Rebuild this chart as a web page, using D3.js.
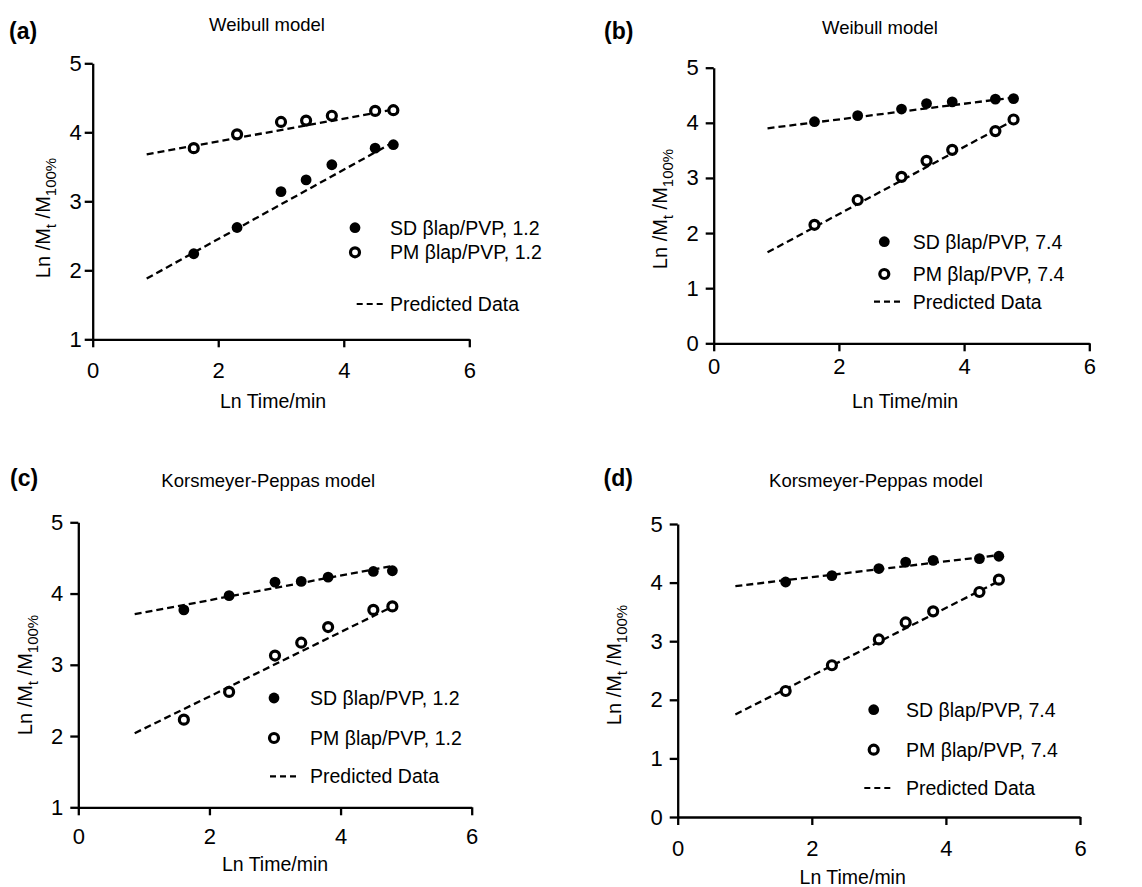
<!DOCTYPE html>
<html>
<head>
<meta charset="utf-8">
<script src="https://cdn.jsdelivr.net/npm/d3@7"></script>
<style>
  body { margin: 0; background: #fff; }
  svg { font-family: "Liberation Sans", Arial, Helvetica, sans-serif; }
</style>
</head>
<body>
<svg width="1142" height="887"></svg>
<script>
// sampling times, ln(min): 5, 10, 20, 30, 45, 90, 120 min
var lnTime = [1.61, 2.30, 3.00, 3.40, 3.81, 4.50, 4.79];

var aSD = [2.24, 2.62, 3.14, 3.31, 3.53, 3.77, 3.82];
var aPM = [3.77, 3.97, 4.15, 4.17, 4.24, 4.31, 4.32];
var bSD = [4.02, 4.13, 4.25, 4.35, 4.38, 4.43, 4.44];
var bPM = [2.15, 2.60, 3.02, 3.31, 3.51, 3.85, 4.06];
var cSD = [3.77, 3.97, 4.16, 4.17, 4.23, 4.31, 4.32];
var cPM = [2.23, 2.62, 3.13, 3.31, 3.53, 3.77, 3.82];
var dSD = [4.01, 4.12, 4.24, 4.35, 4.38, 4.41, 4.45];
var dPM = [2.15, 2.59, 3.03, 3.32, 3.51, 3.84, 4.05];

// predicted (fitted) lines: y at the two ends of fitX
var fitX = [0.86, 4.8];
var aFitSD = [1.88, 3.86], aFitPM = [3.68, 4.33];
var bFitSD = [3.90, 4.46], bFitPM = [1.65, 4.05];
var cFitSD = [3.71, 4.39], cFitPM = [2.04, 3.82];
var dFitSD = [3.94, 4.47], dFitPM = [1.75, 4.03];

var xTicks = [0, 2, 4, 6];
var yTicksAC = [1, 2, 3, 4, 5];
var yTicksBD = [0, 1, 2, 3, 4, 5];

var panels = [
  { tag: '(a)', title: 'Weibull model', ph: '1.2', sd: aSD, pm: aPM, fsd: aFitSD, fpm: aFitPM,
    yDom: [1, 5], yTicks: yTicksAC, x0: 92.7, x1: 469.3, y0: 339.3, y1: 63.3, xPad: 7, yPad: 3,
    tagX: 9, tagY: 39, titleX: 267, titleY: 30.7, xlabX: 273, xlabY: 408, ylabX: 50, ylabY: 218,
    lg: { mx: 355, y1: 227.7, y2: 252.3, y3: 304, tx: 390, d0: 356.7, d1: 383 } },
  { tag: '(b)', title: 'Weibull model', ph: '7.4', sd: bSD, pm: bPM, fsd: bFitSD, fpm: bFitPM,
    yDom: [0, 5], yTicks: yTicksBD, x0: 713.7, x1: 1089.3, y0: 343.3, y1: 67.7, xPad: -1, yPad: 7,
    tagX: 604, tagY: 39, titleX: 880, titleY: 34, xlabX: 905, xlabY: 408, ylabX: 667, ylabY: 209,
    lg: { mx: 884.3, y1: 241.7, y2: 274, y3: 301.7, tx: 912.7, d0: 874, d1: 901 } },
  { tag: '(c)', title: 'Korsmeyer-Peppas model', ph: '1.2', sd: cSD, pm: cPM, fsd: cFitSD, fpm: cFitPM,
    yDom: [1, 5], yTicks: yTicksAC, x0: 78.3, x1: 471.7, y0: 807.3, y1: 522.3, xPad: 5, yPad: 7,
    tagX: 10, tagY: 486, titleX: 268.3, titleY: 487, xlabX: 275, xlabY: 871, ylabX: 31.7, ylabY: 675,
    lg: { mx: 274, y1: 698, y2: 738, y3: 776.3, tx: 310, d0: 270, d1: 296.7 } },
  { tag: '(d)', title: 'Korsmeyer-Peppas model', ph: '7.4', sd: dSD, pm: dPM, fsd: dFitSD, fpm: dFitPM,
    yDom: [0, 5], yTicks: yTicksBD, x0: 677.7, x1: 1080, y0: 817, y1: 524, xPad: 7, yPad: 7,
    tagX: 603.5, tagY: 486, titleX: 876, titleY: 487, xlabX: 852.7, xlabY: 884, ylabX: 621, ylabY: 665,
    lg: { mx: 873.7, y1: 709.7, y2: 749.7, y3: 788, tx: 906, d0: 864.3, d1: 892.7 } }
];

var svg = d3.select('svg');
var fmt = d3.format('d');

panels.forEach(function(p) {
  var g = svg.append('g');
  var x = d3.scaleLinear().domain([0, 6]).range([p.x0, p.x1]);
  var y = d3.scaleLinear().domain(p.yDom).range([p.y0, p.y1]);

  // axes
  var xa = g.append('g').attr('transform', 'translate(0,' + p.y0 + ')')
    .call(d3.axisBottom(x).tickValues(xTicks).tickFormat(fmt)
      .tickSize(8).tickSizeOuter(0).tickPadding(8 + p.xPad));
  var ya = g.append('g').attr('transform', 'translate(' + p.x0 + ',0)')
    .call(d3.axisLeft(y).tickValues(p.yTicks).tickFormat(fmt)
      .tickSize(8).tickSizeOuter(0).tickPadding(p.yPad));
  [xa, ya].forEach(function(a) {
    a.select('.domain').attr('stroke', '#000').attr('stroke-width', 2.3);
    a.selectAll('.tick line').attr('stroke', '#000').attr('stroke-width', 2.3);
    a.selectAll('.tick text').attr('font-size', 22).attr('fill', '#000')
      .style('font-family', '"Liberation Sans", Arial, sans-serif');
  });

  // predicted lines
  var line = d3.line().x(function(d) { return x(d[0]); }).y(function(d) { return y(d[1]); });
  [p.fsd, p.fpm].forEach(function(f) {
    g.append('path')
      .datum([[fitX[0], f[0]], [fitX[1], f[1]]])
      .attr('d', line)
      .attr('fill', 'none').attr('stroke', '#000').attr('stroke-width', 2.3)
      .attr('stroke-dasharray', '7,4');
  });

  // points
  g.selectAll('circle.sd').data(p.sd).enter().append('circle')
    .attr('class', 'sd')
    .attr('cx', function(d, i) { return x(lnTime[i]); })
    .attr('cy', function(d) { return y(d); })
    .attr('r', 5.4).attr('fill', '#000');
  g.selectAll('circle.pm').data(p.pm).enter().append('circle')
    .attr('class', 'pm')
    .attr('cx', function(d, i) { return x(lnTime[i]); })
    .attr('cy', function(d) { return y(d); })
    .attr('r', 4.5).attr('fill', '#fff').attr('stroke', '#000').attr('stroke-width', 3.2);

  // legend
  var L = p.lg;
  g.append('circle').attr('cx', L.mx).attr('cy', L.y1).attr('r', 5.4).attr('fill', '#000');
  g.append('circle').attr('cx', L.mx).attr('cy', L.y2).attr('r', 4.5)
    .attr('fill', '#fff').attr('stroke', '#000').attr('stroke-width', 3.2);
  g.append('line').attr('x1', L.d0).attr('x2', L.d1).attr('y1', L.y3).attr('y2', L.y3)
    .attr('stroke', '#000').attr('stroke-width', 2.2).attr('stroke-dasharray', '6,4');
  [['SD \u03b2lap/PVP, ' + p.ph, L.y1], ['PM \u03b2lap/PVP, ' + p.ph, L.y2], ['Predicted Data', L.y3]]
    .forEach(function(t) {
      g.append('text').attr('x', L.tx).attr('y', t[1]).attr('dy', '0.36em')
        .attr('font-size', 19.5).attr('fill', '#000').text(t[0]);
    });

  // titles and labels
  g.append('text').attr('x', p.tagX).attr('y', p.tagY)
    .attr('font-size', 23).attr('font-weight', 'bold').text(p.tag);
  g.append('text').attr('x', p.titleX).attr('y', p.titleY).attr('text-anchor', 'middle')
    .attr('font-size', 18.5).attr('fill', '#000').text(p.title);
  g.append('text').attr('x', p.xlabX).attr('y', p.xlabY).attr('text-anchor', 'middle')
    .attr('font-size', 19.5).attr('fill', '#000').text('Ln Time/min');

  var yl = g.append('text')
    .attr('transform', 'translate(' + p.ylabX + ',' + p.ylabY + ') rotate(-90)')
    .attr('text-anchor', 'middle').attr('font-size', 20).attr('fill', '#000');
  yl.append('tspan').text('Ln /M');
  yl.append('tspan').attr('font-size', 15).attr('dy', 6).text('t');
  yl.append('tspan').attr('dy', -6).text(' /M');
  yl.append('tspan').attr('font-size', 15).attr('dy', 6).text('100%');
});
</script>
</body>
</html>
